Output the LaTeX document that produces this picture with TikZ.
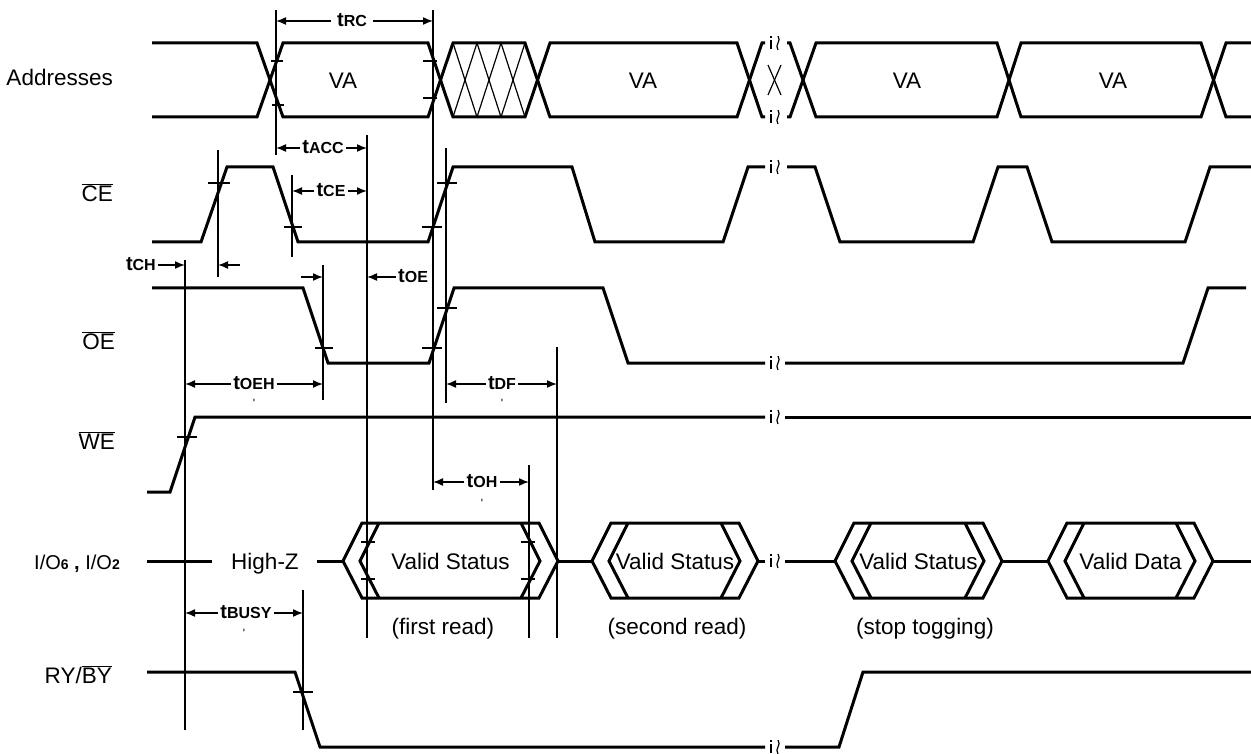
\documentclass[tikz,border=0pt]{standalone}
\usepackage{fontspec}
\setmainfont{Liberation Sans}
\usetikzlibrary{arrows.meta}
\definecolor{tdInk}{RGB}{0,0,0}
% timing parameter label: t + smaller bold caps
\newcommand{\tm}[1]{{\bfseries\fontsize{20}{21}\selectfont t\fontsize{16}{18}\selectfont #1}}
\newcommand{\ovl}[1]{$\overline{\mbox{#1}}$}

\begin{document}
\begin{tikzpicture}[x=1pt,y=-1pt,
    sig/.style={draw=tdInk, line width=3pt, line join=miter},
    guide/.style={draw=tdInk, line width=1.4pt},
    hatch/.style={draw=tdInk, line width=1.2pt},
    tick/.style={draw=tdInk, line width=1.4pt},
    brk/.style={draw=tdInk, line width=1.2pt},
    dim/.style={-{Latex[length=10pt,width=8pt]}, draw=tdInk, line width=1.5pt},
    txt/.style={font=\fontsize{22.5}{25}\selectfont, text height=16.1pt, text depth=0pt, inner sep=0pt},
    tlbl/.style={text height=11.5pt, text depth=0pt, inner sep=2pt},
    apos/.style={font=\fontsize{12}{12}\selectfont, inner sep=0pt}]
    \useasboundingbox (0,0) rectangle (1251,754);

    % signal names
    \node[txt, anchor=east] (lAdr) at (113,77) {Addresses};
    \node[txt, anchor=east] (lCE) at (113,193) {\ovl{CE}};
    \node[txt, anchor=east] (lOE) at (115,341) {\ovl{OE}};
    \node[txt, anchor=east] (lWE) at (115,441) {\ovl{WE}};
    \node[txt, anchor=east, font=\fontsize{20}{22}\selectfont] (lIO) at (120,561)
        {I/O{\bfseries\fontsize{14}{15}\selectfont 6} {\bfseries ,} I/O{\bfseries\fontsize{14}{15}\selectfont 2}};
    \node[txt, anchor=east] (lRY) at (112,675) {RY/\ovl{BY}};

    % Addresses bus
    \draw[sig] (152,43) -- (257,43) -- (283,117) -- (428,117) -- (453,43) -- (525,43) -- (550,117) -- (737,117) -- (762,43) -- (765,43);
    \draw[sig] (152,117) -- (257,117) -- (283,43) -- (428,43) -- (453,117) -- (525,117) -- (550,43) -- (737,43) -- (762,117) -- (765,117);
    \draw[sig] (787,43) -- (790,43) -- (816,117) -- (997,117) -- (1021,43) -- (1201,43) -- (1226,117) -- (1251,117);
    \draw[sig] (787,117) -- (790,117) -- (816,43) -- (997,43) -- (1021,117) -- (1201,117) -- (1226,43) -- (1251,43);
    \foreach \a/\b in {453/477, 477/501, 501/525} {
        \draw[hatch] (\a,43) -- (\b,117);
        \draw[hatch] (\b,43) -- (\a,117);
    }
    \draw[hatch] (768,65) -- (781,95);
    \draw[hatch] (781,65) -- (768,95);
    \node[txt] (va1) at (343,80) {VA};
    \node[txt] (va2) at (643,80) {VA};
    \node[txt] (va3) at (907,80) {VA};
    \node[txt] (va4) at (1113,80) {VA};

    % CE#
    \draw[sig] (152,242) -- (201,242) -- (227,167) -- (273,167) -- (298,242) -- (428,242) -- (453,167) -- (572,167) -- (595,242) -- (723,242) -- (748,167) -- (765,167);
    \draw[sig] (787,167) -- (815,167) -- (840,242) -- (973,242) -- (998,167) -- (1027,167) -- (1052,242) -- (1185,242) -- (1210,167) -- (1251,167);

    % OE#
    \draw[sig] (152,288) -- (303,288) -- (328,363) -- (429,363) -- (454,288) -- (603,288) -- (628,363) -- (765,363);
    \draw[sig] (785,363) -- (1183,363) -- (1208,288) -- (1246,288);

    % WE#
    \draw[sig] (147,492) -- (170,492) -- (195,417) -- (765,417);
    \draw[sig] (785,417) -- (1251,417);

    % I/O6, I/O2
    \node[txt] (hz) at (265,561) {High-Z};
    \draw[sig] (147,561) -- (212,561);
    \draw[sig] (317,561) -- (343,561);
    \foreach \xl/\xr/\nm/\txt in {343/558/vs1/Valid Status, 592/758/vs2/Valid Status, 835/1002/vs3/Valid Status, 1048/1213/vd/Valid Data} {
        \draw[sig] (\xl,561) -- (\xl+19,523) -- (\xr-19,523) -- (\xr,561) -- (\xr-19,598) -- (\xl+19,598) -- cycle;
        \draw[sig] (\xl+36,523) -- (\xl+17,561) -- (\xl+36,598);
        \draw[sig] (\xr-37,523) -- (\xr-18,561) -- (\xr-37,598);
        \node[txt] (\nm) at ({(\xl+\xr)/2},561) {\txt};
    }
    \draw[sig] (558,561) -- (592,561);
    \draw[sig] (758,561) -- (765,561);
    \draw[sig] (785,561) -- (835,561);
    \draw[sig] (1002,561) -- (1048,561);
    \draw[sig] (1213,561) -- (1251,561);
    \node[txt] (rd1) at (443,626) {(first read)};
    \node[txt] (rd2) at (677,626) {(second read)};
    \node[txt] (stp) at (925,626) {(stop togging)};

    % RY/BY#
    \draw[sig] (147,672) -- (295,672) -- (320,747) -- (765,747);
    \draw[sig] (785,747) -- (839,747) -- (863,672) -- (1251,672);

    % break marks
    \foreach \yy in {43,117,167,363,417,561,747} {
        \draw[brk, dash pattern=on 2pt off 2pt on 9pt] (771,\yy-7) -- (771,\yy+7);
        \draw[brk] (778,\yy-7) .. controls (782,\yy-2) and (774,\yy+2) .. (778,\yy+7);
    }

    % guide lines
    \draw[guide] (276,10) coordinate (gRCa) -- (276,155);
    \draw[guide] (433,10) coordinate (gRCb) -- (433,490);
    \draw[guide] (218,150) coordinate (gCEr) -- (218,277);
    \draw[guide] (292,175) coordinate (gCEf) -- (292,257);
    \draw[guide] (367,135) coordinate (gACC) -- (367,638);
    \draw[guide] (446,148) coordinate (gDF) -- (446,403);
    \draw[guide] (185,260) coordinate (gCH) -- (185,730);
    \draw[guide] (323,265) coordinate (gOEf) -- (323,400);
    \draw[guide] (557,347) coordinate (gDFr) -- (557,638);
    \draw[guide] (529,465) coordinate (gOH) -- (529,638);
    \draw[guide] (303,590) coordinate (gBSY) -- (303,730);

    % crossing ticks
    \foreach \xx/\yy/\hw in {277/61/6, 278/105/6, 430/61/7, 430/98/7, 219/183/11, 293/227/9, 432/227/10, 447/183/10,
                             324/348/9, 432/348/10, 447/308/10, 187/437/10, 368/542/7, 368/579/7, 528/542/7, 528/579/7, 303/692/10}
        \draw[tick] (\xx-\hw,\yy) -- (\xx+\hw,\yy);

    % timing parameters
    \node[tlbl, inner xsep=6pt] (tRC) at (352,21) {\tm{RC}};
    \draw[dim] (tRC) -- (gRCa |- tRC);
    \draw[dim] (tRC) -- (gRCb |- tRC);

    \node[tlbl] (tACC) at (323,148) {\tm{ACC}};
    \draw[dim] (tACC) -- (gRCa |- tACC);
    \draw[dim] (tACC) -- (gACC |- tACC);

    \node[tlbl] (tCE) at (331,191) {\tm{CE}};
    \draw[dim] (tCE) -- (gCEf |- tCE);
    \draw[dim] (tCE) -- (gACC |- tCE);

    \node[tlbl, anchor=east] (tCH) at (158,265) {\tm{CH}};
    \draw[dim] (tCH) -- (gCH |- tCH);
    \coordinate (chR) at (240,265);
    \draw[dim] (chR) -- (gCEr |- chR);

    \coordinate (oeL) at (301,277);
    \draw[dim] (oeL) -- (gOEf |- oeL);
    \node[tlbl, anchor=west] (tOE) at (396,277) {\tm{OE}};
    \draw[dim] (tOE) -- (gACC |- tOE);

    \node[tlbl] (tOEH) at (254,384) {\tm{OEH}};
    \draw[dim] (tOEH) -- (gCH |- tOEH);
    \draw[dim] (tOEH) -- (gOEf |- tOEH);

    \node[tlbl] (tDF) at (502,384) {\tm{DF}};
    \draw[dim] (tDF) -- (gDF |- tDF);
    \draw[dim] (tDF) -- (gDFr |- tDF);

    \node[tlbl] (tOH) at (482,482) {\tm{OH}};
    \draw[dim] (tOH) -- (gRCb |- tOH);
    \draw[dim] (tOH) -- (gOH |- tOH);

    \node[tlbl] (tBSY) at (246,613) {\tm{BUSY}};
    \draw[dim] (tBSY) -- (gCH |- tBSY);
    \draw[dim] (tBSY) -- (gBSY |- tBSY);

    % stray marks under labels
    \node[apos] (qOEH) at (254,403) {\textquotesingle};
    \node[apos] (qDF) at (502,403) {\textquotesingle};
    \node[apos] (qOH) at (482,503) {\textquotesingle};
    \node[apos] (qBSY) at (244,633) {\textquotesingle};
\end{tikzpicture}
\end{document}
